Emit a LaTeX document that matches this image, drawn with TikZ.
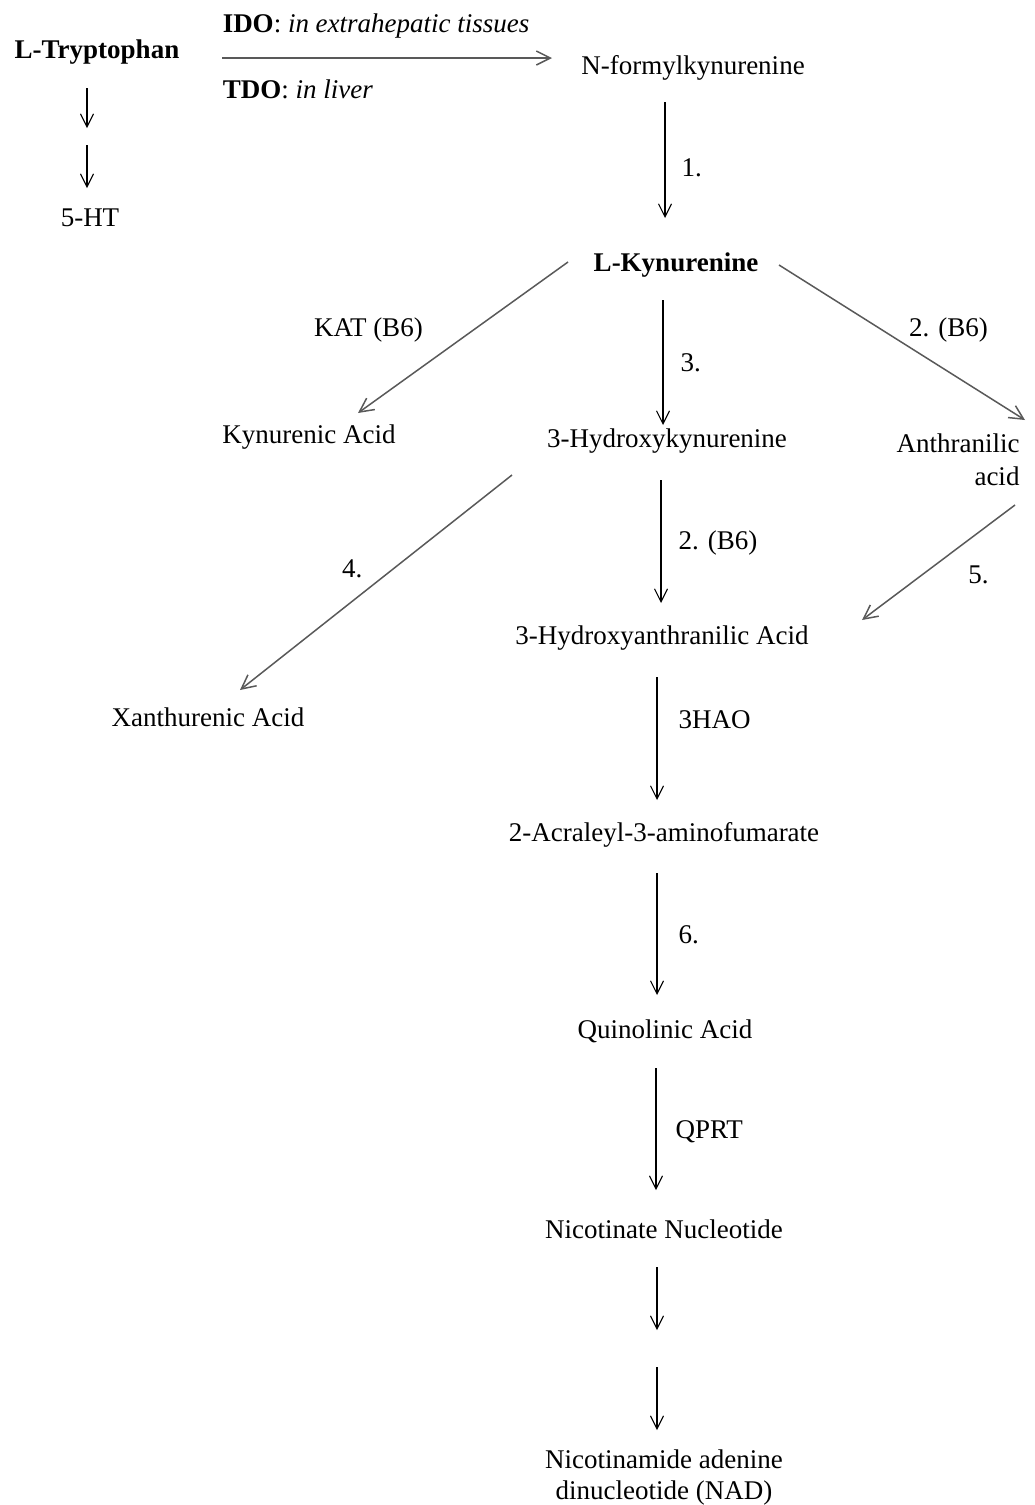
\documentclass[tikz,border=0pt]{standalone}
\usepackage{fontspec}
\setmainfont{Liberation Serif}
\usetikzlibrary{arrows.meta, positioning, calc}

\begin{document}
\begin{tikzpicture}[x=1pt, y=-1pt,
        metab/.style={inner sep=2pt, font=\fontsize{27}{33}\selectfont},
        enz/.style={inner sep=2pt, text=black, font=\fontsize{27}{30}\selectfont},
        arrow/.style={-{Straight Barb[length=13pt, width=13pt]}, line width=1.1pt},
        grayarrow/.style={-{Straight Barb[length=14pt, width=14pt]}, line width=1.5pt, black!65}
    ]
        \useasboundingbox (0,0) rectangle (1035,1505);

        % Tryptophan branch
        \node[metab, font=\fontsize{27}{33}\selectfont\bfseries] (trp) at (97,52) {L-Tryptophan};
        \node[metab] (ht) at (90,218) {5-HT};
        \coordinate (trpmid) at (87,137);

        % Main column
        \node[metab] (nfk) at (693,68) {N-formylkynurenine};
        \node[metab, font=\fontsize{27}{33}\selectfont\bfseries] (kyn) at (676,265) {L-Kynurenine};
        \node[metab] (kynacid) at (309,437) {Kynurenic Acid};
        \node[metab] (hk) at (667,441) {3-Hydroxykynurenine};
        \node[metab, align=right] (anth) at (958,460) {Anthranilic\\acid};
        \node[metab] (haa) at (662,638) {3-Hydroxyanthranilic Acid};
        \node[metab] (xa) at (208,717) {Xanthurenic Acid};
        \node[metab] (acm) at (664,835) {2-Acraleyl-3-aminofumarate};
        \node[metab] (quin) at (665,1031) {Quinolinic Acid};
        \node[metab] (nn) at (664,1229) {Nicotinate Nucleotide};
        \coordinate (nadmid) at (657,1349);
        \node[metab, align=center, font=\fontsize{27}{31}\selectfont] (nad) at (664,1477) {Nicotinamide adenine\\dinucleotide (NAD)};

        % Tryptophan -> 5-HT
        \draw[arrow] ($(trp)+(-10,36)$) -- ($(trpmid)+(0,-9)$);
        \draw[arrow] ($(trpmid)+(0,8)$) -- ($(ht)+(-3,-30)$);

        % IDO / TDO
        \draw[grayarrow] ($(trp)+(125,6)$) -- ($(nfk)+(-141,-10)$)
            node[enz, pos=0, anchor=base west, xshift=-2pt, yshift=26pt] {\textbf{IDO}: \textit{in extrahepatic tissues}}
            node[enz, pos=0, anchor=base west, xshift=-2pt, yshift=-40pt] {\textbf{TDO}: \textit{in liver}};

        \draw[arrow] ($(nfk)+(-28,34)$) -- ($(kyn)+(-11,-47)$) node[enz, pos=0.57, right, xshift=14pt] {1.};

        % From kynurenine
        \draw[grayarrow] ($(kyn)+(-108,-3)$) -- ($(kynacid)+(49,-24)$) node[enz, pos=0.45, left, xshift=-48pt] {KAT (B6)};
        \draw[arrow] ($(kyn)+(-13,35)$) -- ($(hk)+(-4,-16)$) node[enz, pos=0.5, right, xshift=15pt] {3.};
        \draw[grayarrow] ($(kyn)+(103,0)$) -- ($(anth)+(67,-40)$) node[enz, pos=0.42, right, xshift=24pt] {2. (B6)};

        % From 3-hydroxykynurenine
        \draw[grayarrow] ($(hk)+(-155,34)$) -- ($(xa)+(32,-27)$) node[enz, pos=0.437, left, xshift=-28pt] {4.};
        \draw[arrow] ($(hk)+(-6,39)$) -- ($(haa)+(-1,-35)$) node[enz, pos=0.51, right, xshift=15pt] {2. (B6)};
        \draw[grayarrow] ($(anth)+(57,45)$) -- ($(haa)+(200,-18)$) node[enz, pos=0.61, right, xshift=44pt] {5.};

        % Down to NAD
        \draw[arrow] ($(haa)+(-5,39)$) -- ($(acm)+(-7,-35)$) node[enz, pos=0.35, right, xshift=19pt] {3HAO};
        \draw[arrow] ($(acm)+(-7,38)$) -- ($(quin)+(-8,-36)$) node[enz, pos=0.51, right, xshift=19pt] {6.};
        \draw[arrow] ($(quin)+(-9,37)$) -- ($(nn)+(-8,-39)$) node[enz, pos=0.52, right, xshift=17pt] {QPRT};
        \draw[arrow] ($(nn)+(-7,38)$) -- ($(nadmid)+(0,-19)$);
        \draw[arrow] ($(nadmid)+(0,18)$) -- ($(nad)+(-7,-47)$);
    \end{tikzpicture}
\end{document}
